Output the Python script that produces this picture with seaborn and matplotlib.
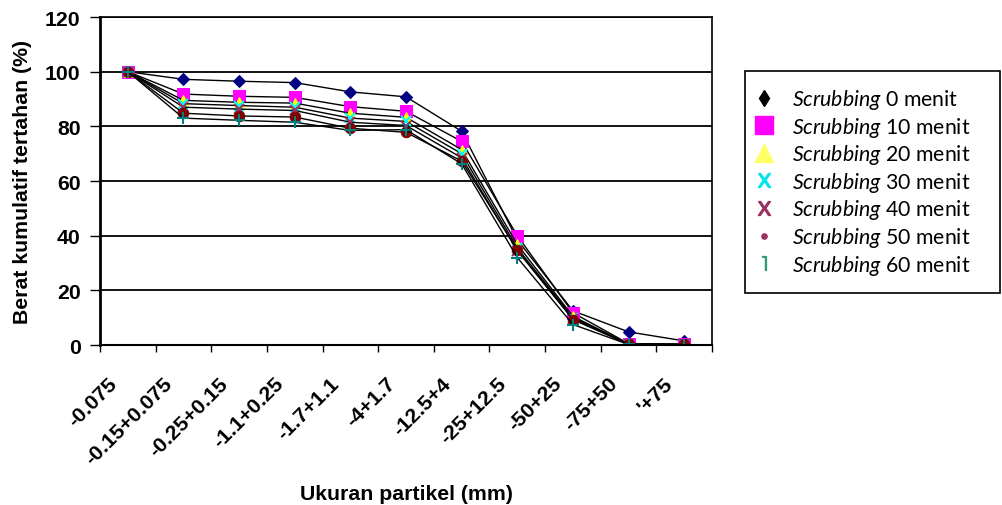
import numpy as np
import pandas as pd
import matplotlib
matplotlib.use("Agg")
import matplotlib.pyplot as plt
import matplotlib.transforms as mtransforms
from matplotlib.lines import Line2D
import seaborn as sns

categories = ["-0.075", "-0.15+0.075", "-0.25+0.15", "-1.1+0.25", "-1.7+1.1", "-4+1.7",
              "-12.5+4", "-25+12.5", "-50+25", "-75+50", "'+75"]
s0 = [100, 97.2, 96.5, 96.0, 92.6, 90.8, 78.2, 38.5, 12.5, 4.8, 1.5]
s10 = [100, 91.8, 91.0, 90.6, 87.2, 85.5, 74.5, 40.0, 11.8, 0.5, 0.3]
s20 = [100, 89.5, 88.8, 88.5, 84.8, 83.3, 71.5, 36.8, 10.5, 0.3, 0.2]
s30 = [100, 88.3, 87.6, 87.0, 83.0, 81.8, 70.0, 35.5, 10.0, 0.3, 0.2]
s40 = [100, 87.0, 86.3, 85.8, 81.5, 80.3, 68.5, 34.5, 9.5, 0.3, 0.2]
s50 = [100, 84.8, 83.8, 83.4, 79.3, 77.8, 67.3, 34.8, 9.3, 0.3, 0.2]
s60 = [100, 83.0, 82.2, 81.5, 78.5, 78.8, 66.3, 32.0, 7.5, 0.2, 0.1]
series_minutes = ["0", "10", "20", "30", "40", "50", "60"]
series_values = [s0, s10, s20, s30, s40, s50, s60]
yticks = [0, 20, 40, 60, 80, 100, 120]

sns.set_theme(style="white")
plt.rcParams['font.family'] = ['Liberation Sans', 'DejaVu Sans']
plt.rcParams['text.color'] = 'black'
plt.rcParams['axes.labelcolor'] = 'black'
plt.rcParams['xtick.color'] = 'black'
plt.rcParams['ytick.color'] = 'black'
plt.rcParams['mathtext.fontset'] = 'custom'
plt.rcParams['mathtext.rm'] = 'Lato'
plt.rcParams['mathtext.it'] = 'Lato:italic'

FS = 15.3
fig = plt.figure(figsize=(10.02, 5.06), dpi=100)
ax = fig.add_axes([100/1002, 1-346/506, 612/1002, 328/506])

styles = [
    dict(marker='D', markerfacecolor='#000080', markeredgecolor='#000080', markersize=6.5),
    dict(marker='s', markerfacecolor='#FF00FF', markeredgecolor='#FF00FF', markersize=8),
    dict(marker='^', markerfacecolor='#FFFF00', markeredgecolor='#FFFF00', markersize=7.5),
    dict(marker='x', markerfacecolor='#00FFFF', markeredgecolor='#00FFFF', markersize=7, markeredgewidth=1.5),
    dict(marker='x', markerfacecolor='#993366', markeredgecolor='#993366', markersize=7, markeredgewidth=1.5),
    dict(marker='o', markerfacecolor='#800000', markeredgecolor='#800000', markersize=7.5),
    dict(marker='+', markerfacecolor='#008080', markeredgecolor='#008080', markersize=9, markeredgewidth=1.5),
]

x = np.arange(len(categories))
for m, vals, st in zip(series_minutes, series_values, styles):
    df = pd.DataFrame({"x": x, "y": vals})
    sns.lineplot(data=df, x="x", y="y", ax=ax, color='black', linewidth=1.0, **st)

ax.set_xlim(-0.5, len(categories) - 0.5)
ax.set_ylim(0, 120)
ax.set_yticks(yticks)
ax.set_yticklabels([str(v) for v in yticks], fontsize=FS, fontweight='bold')
ax.yaxis.grid(True, color='black', linewidth=1.3)
ax.set_axisbelow(True)
ax.set_xticks(x)
ax.set_xticklabels([])
ax.set_xticks(np.arange(-0.5, len(categories)), minor=True)
ax.tick_params(axis='x', which='major', length=0)
ax.tick_params(axis='x', which='minor', length=5, width=1, color='black', direction='out', bottom=True)
ax.tick_params(axis='y', which='major', length=7, width=1, color='black', direction='out', left=True, pad=7)

lbl_tr = ax.get_xaxis_transform() + mtransforms.ScaledTranslation(-10/100, -39/100, fig.dpi_scale_trans)
for xi, cat in zip(x, categories):
    ax.text(xi, 0, cat, transform=lbl_tr, rotation=45, ha='right', va='baseline',
            rotation_mode='anchor', fontsize=FS, fontweight='bold')

for s in ax.spines.values():
    s.set_color('black')
    s.set_linewidth(1.2)
ax.spines['left'].set_linewidth(2)
ax.spines['bottom'].set_linewidth(1.5)

ax.set_xlabel("Ukuran partikel (mm)", fontsize=FS, fontweight='bold')
ax.xaxis.set_label_coords(0.5, (346-494)/328)
ax.xaxis.label.set_va('center')
ax.set_ylabel("Berat kumulatif tertahan (%)", fontsize=FS, fontweight='bold')
ax.yaxis.set_label_coords((23-100)/612, 0.5)
ax.yaxis.label.set_va('center')

leg_styles = [
    dict(marker='d', color='black', markersize=8),
    dict(marker='s', color='#FF00FF', markersize=13),
    dict(marker='^', color='#FFFF66', markersize=13),
    dict(marker='$\\mathrm{X}$', color='#00E5EE', markersize=10),
    dict(marker='$\\mathrm{X}$', color='#993366', markersize=10),
    dict(marker='o', color='#993366', markersize=3.8),
    dict(marker='$\u2309$', color='#2E9E6E', markersize=10),
]
handles = [Line2D([], [], linestyle='none', **st) for st in leg_styles]
labels = [r"$\mathit{Scrubbing}$ " + m + " menit" for m in series_minutes]
leg = fig.legend(handles, labels, loc='upper left',
                 bbox_to_anchor=(745/1002, 1-296/506, 255/1002, 224/506), mode='expand',
                 frameon=True, fancybox=False, edgecolor='black', framealpha=1,
                 prop={'family': 'Lato', 'size': FS}, labelspacing=0.17,
                 handlelength=0.3, handletextpad=1.15, borderpad=0.75, borderaxespad=0)
leg.get_frame().set_linewidth(1.2)

fig.savefig("out.png", dpi=100)
